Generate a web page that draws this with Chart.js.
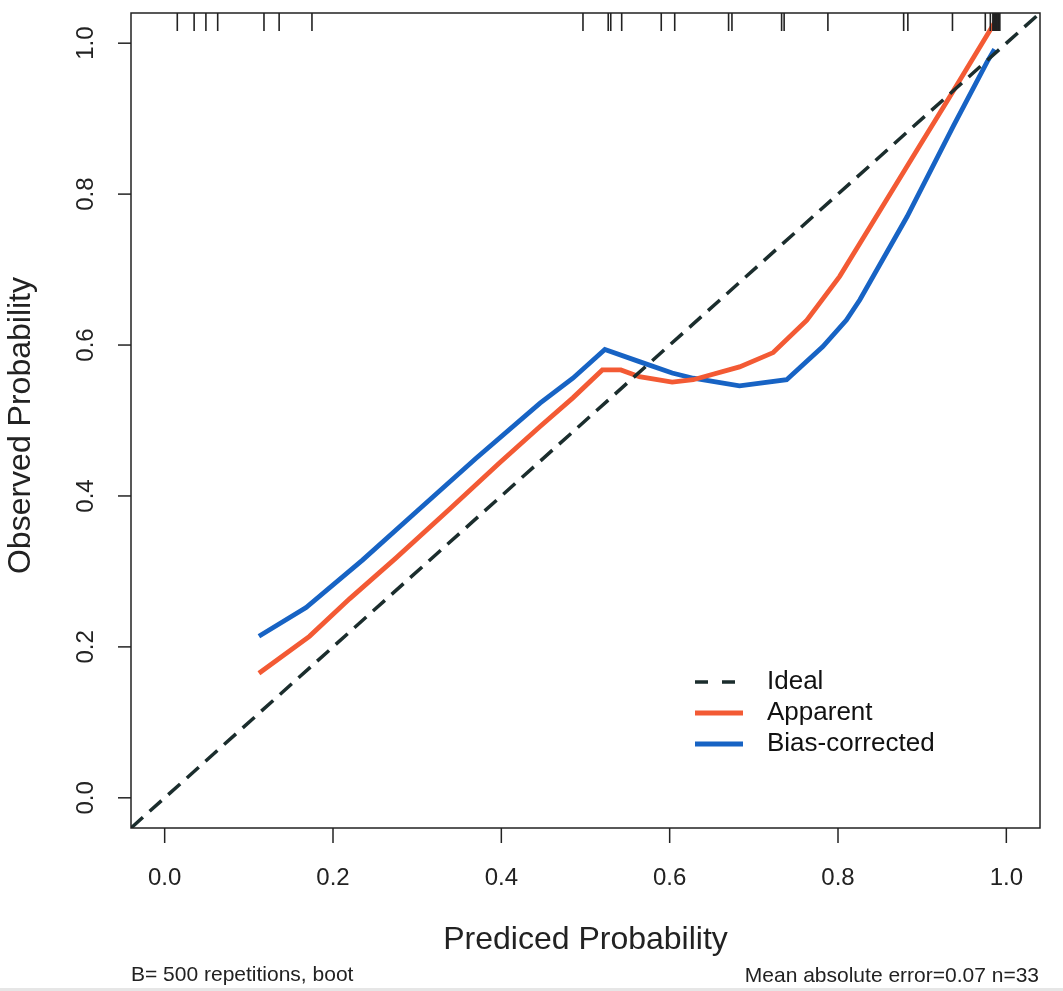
<!DOCTYPE html>
<html>
<head>
<meta charset="utf-8">
<script src="https://cdn.jsdelivr.net/npm/chart.js@4.4.1/dist/chart.umd.min.js"></script>
<style>
  body { margin: 0; background: #fff; }
  #wrap { width: 1063px; height: 991px; position: relative; }
</style>
</head>
<body>
<div id="wrap"><canvas id="myChart"></canvas></div>
<script>
// axis ticks
var xTicks = [0, 0.2, 0.4, 0.6, 0.8, 1.0];
var yTicks = [0, 0.2, 0.4, 0.6, 0.8, 1.0];

// ideal diagonal
var idealX = [-0.04, 1.04];
var idealY = [-0.04, 1.04];

// apparent calibration curve
var apparentX = [0.112, 0.172, 0.220, 0.275, 0.338, 0.398, 0.446, 0.485, 0.520, 0.542, 0.564, 0.603, 0.628, 0.683, 0.723, 0.763, 0.802, 0.841, 0.897, 0.929, 0.986];
var apparentY = [0.165, 0.214, 0.264, 0.318, 0.382, 0.444, 0.492, 0.530, 0.567, 0.567, 0.558, 0.551, 0.554, 0.571, 0.590, 0.633, 0.691, 0.762, 0.864, 0.922, 1.027];

// bias-corrected curve
var biasX = [0.112, 0.168, 0.235, 0.300, 0.370, 0.446, 0.485, 0.523, 0.564, 0.603, 0.628, 0.683, 0.739, 0.782, 0.810, 0.826, 0.882, 0.937, 0.977, 0.986];
var biasY = [0.214, 0.252, 0.315, 0.380, 0.450, 0.523, 0.556, 0.594, 0.578, 0.563, 0.556, 0.546, 0.554, 0.598, 0.633, 0.660, 0.770, 0.890, 0.975, 0.992];

// predicted probabilities shown as rug on top
var rugValues = [0.015, 0.035, 0.049, 0.063, 0.118, 0.136, 0.175,
    0.497, 0.527, 0.530, 0.543, 0.590, 0.606, 0.670, 0.674, 0.733, 0.736,
    0.788, 0.878, 0.883, 0.936,
    0.975, 0.981, 0.984, 0.985, 0.986, 0.987, 0.988, 0.989, 0.990, 0.991, 0.992, 0.992];

var FONT = '"Liberation Sans", Arial, sans-serif';
var ORANGE = "#f35a34";
var BLUE = "#1763c4";
var DARK = "#1b2d2d";

function pts(xs, ys) {
    return xs.map(function (x, i) { return { x: x, y: ys[i] }; });
}

var framePlugin = {
    id: "frame",
    afterDraw: function (chart) {
        var c = chart.ctx;
        var a = chart.chartArea;
        var xs = chart.scales.x, ys = chart.scales.y;
        c.save();
        c.strokeStyle = "#222";
        c.fillStyle = "#222";
        c.lineWidth = 1.5;
        c.strokeRect(a.left, a.top, a.right - a.left, a.bottom - a.top);

        // x ticks + labels
        c.font = "24px " + FONT;
        c.textAlign = "center";
        c.textBaseline = "middle";
        xTicks.forEach(function (v) {
            var px = xs.getPixelForValue(v);
            c.beginPath();
            c.moveTo(px, a.bottom);
            c.lineTo(px, a.bottom + 15);
            c.stroke();
            c.fillText(v.toFixed(1), px, 878);
        });

        // y ticks + rotated labels
        yTicks.forEach(function (v) {
            var py = ys.getPixelForValue(v);
            c.beginPath();
            c.moveTo(a.left, py);
            c.lineTo(a.left - 13, py);
            c.stroke();
            c.save();
            c.translate(86, py);
            c.rotate(-Math.PI / 2);
            c.fillText(v.toFixed(1), 0, 0);
            c.restore();
        });

        // rug
        c.lineWidth = 1.6;
        rugValues.forEach(function (v) {
            var px = xs.getPixelForValue(v);
            c.beginPath();
            c.moveTo(px, a.top);
            c.lineTo(px, a.top + 18);
            c.stroke();
        });

        // axis titles
        c.font = "32px " + FONT;
        c.fillText("Prediced Probability", (a.left + a.right) / 2, 940);
        c.save();
        c.translate(21, (a.top + a.bottom) / 2 + 5);
        c.rotate(-Math.PI / 2);
        c.fillText("Observed Probability", 0, 0);
        c.restore();

        // footer notes
        c.font = "21px " + FONT;
        c.textAlign = "left";
        c.fillText("B= 500 repetitions, boot", 131, 975);
        c.textAlign = "right";
        c.fillText("Mean absolute error=0.07 n=33", 1039, 976);

        // legend
        var rows = [
            { label: "Ideal", color: DARK, dash: [13, 14], w: 3.5 },
            { label: "Apparent", color: ORANGE, dash: [], w: 5 },
            { label: "Bias-corrected", color: BLUE, dash: [], w: 5 }
        ];
        c.font = "26px " + FONT;
        c.textAlign = "left";
        rows.forEach(function (r, i) {
            var y = 682 + i * 31;
            c.save();
            c.strokeStyle = r.color;
            c.lineWidth = r.w;
            c.lineCap = "butt";
            c.setLineDash(r.dash);
            c.beginPath();
            c.moveTo(695, y);
            c.lineTo(743, y);
            c.stroke();
            c.restore();
            c.fillStyle = "#111";
            c.fillText(r.label, 767, y);
        });

        c.fillStyle = "#e6e6e6";
        c.fillRect(0, 988, chart.width, 3);
        c.restore();
    }
};

var ctx = document.getElementById("myChart").getContext("2d");

var myChart = new Chart(ctx, {
    type: "scatter",
    data: {
        datasets: [
            {
                label: "Ideal",
                data: pts(idealX, idealY),
                showLine: true,
                borderColor: DARK,
                borderWidth: 3.5,
                borderDash: [16, 9],
                pointRadius: 0
            },
            {
                label: "Apparent",
                data: pts(apparentX, apparentY),
                showLine: true,
                borderColor: ORANGE,
                borderWidth: 4.8,
                pointRadius: 0,
                tension: 0
            },
            {
                label: "Bias-corrected",
                data: pts(biasX, biasY),
                showLine: true,
                borderColor: BLUE,
                borderWidth: 4.8,
                pointRadius: 0,
                tension: 0
            }
        ]
    },
    options: {
        responsive: true,
        maintainAspectRatio: false,
        animation: false,
        layout: {
            padding: { left: 131, right: 23, top: 13, bottom: 163 }
        },
        scales: {
            x: { type: "linear", min: -0.04, max: 1.04, display: false },
            y: { type: "linear", min: -0.04, max: 1.04, display: false }
        },
        plugins: {
            legend: { display: false },
            tooltip: { enabled: false }
        }
    },
    plugins: [framePlugin]
});
</script>
</body>
</html>
